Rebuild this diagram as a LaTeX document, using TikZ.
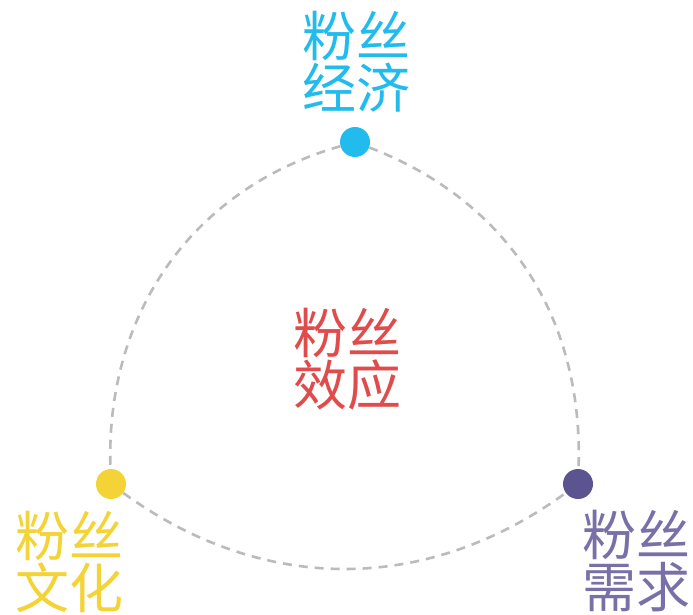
\documentclass[tikz,border=0pt]{standalone}
\usepackage{fontspec}
\newfontfamily\cjk{Noto Sans CJK SC}
\definecolor{cyanc}{HTML}{22BBEE}
\definecolor{yellowc}{HTML}{F3D335}
\definecolor{purplec}{HTML}{5C5490}
\definecolor{purplet}{HTML}{7A70A8}
\definecolor{redc}{HTML}{E04B4B}
\definecolor{arcgray}{HTML}{BBBBBB}
\tikzset{
  dot/.style={circle, inner sep=0pt, minimum size=30pt},
  lbl/.style={align=center, inner sep=0pt, font=\cjk\fontsize{54}{52}\selectfont},
  arcline/.style={draw=arcgray, line width=2.6pt, dash pattern=on 9pt off 7pt}
}
\begin{document}
\begin{tikzpicture}[x=1pt,y=1pt]
\useasboundingbox (0,0) rectangle (693,-614);
\node[dot, fill=cyanc] (top) at (355,-142) {};
\node[dot, fill=yellowc] (left) at (111,-484) {};
\node[dot, fill=purplec] (right) at (578,-484) {};
\draw[arcline] (top) to[out=196,in=92] (left);
\draw[arcline] (top) to[out=-21,in=88] (right);
\draw[arcline] (left) to[out=-36,in=216] (right);
\node[lbl, text=cyanc] (t1) at (356,-62) {粉丝\\经济};
\node[lbl, text=redc] (t2) at (347,-359) {粉丝\\效应};
\node[lbl, text=yellowc] (t3) at (69,-562) {粉丝\\文化};
\node[lbl, text=purplet] (t4) at (636,-561) {粉丝\\需求};
\end{tikzpicture}
\end{document}
